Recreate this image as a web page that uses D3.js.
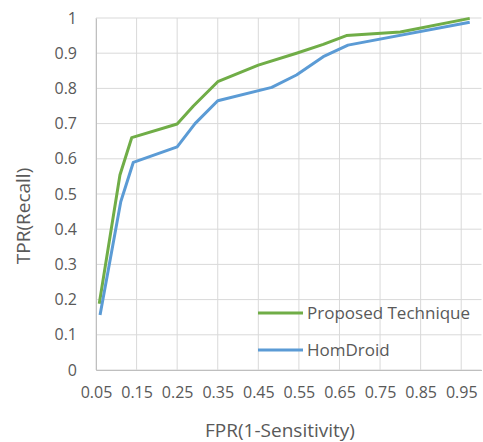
<!DOCTYPE html>
<html>
<head>
<meta charset="utf-8">
<script src="https://cdn.jsdelivr.net/npm/d3@7"></script>
<style>
  body { margin: 0; background: #fff; }
  text { font-family: 'Open Sans', sans-serif; fill: #595959; }
</style>
</head>
<body>
<div id="chart"></div>
<script>
// values
let proposedX = [0.058, 0.109, 0.138, 0.25, 0.29, 0.35, 0.45, 0.544, 0.61, 0.667, 0.80, 0.971]
let proposedY = [0.188, 0.554, 0.66, 0.699, 0.75, 0.819, 0.866, 0.90, 0.925, 0.95, 0.96, 0.999]

let homX = [0.06, 0.111, 0.142, 0.25, 0.294, 0.35, 0.483, 0.544, 0.61, 0.671, 0.971]
let homY = [0.156, 0.478, 0.59, 0.634, 0.70, 0.765, 0.803, 0.838, 0.89, 0.923, 0.988]

let xTicks = [0.05, 0.15, 0.25, 0.35, 0.45, 0.55, 0.65, 0.75, 0.85, 0.95]
let yTicks = [0, 0.1, 0.2, 0.3, 0.4, 0.5, 0.6, 0.7, 0.8, 0.9, 1]

let seriesNames = ['Proposed Technique', 'HomDroid']
let seriesColors = ['#70ad47', '#5b9bd5']

let width = 483, height = 442
let margin = {top: 18, right: 1.5, bottom: 72, left: 96}

let svg = d3.select('#chart')
.append('svg')
.attr('width', width)
.attr('height', height)

let x = d3.scaleLinear()
.domain([0.05, 1.0])
.range([margin.left, width - margin.right])

let y = d3.scaleLinear()
.domain([0, 1])
.range([height - margin.bottom, margin.top])

// grid
svg.append('g')
.selectAll('line')
.data(yTicks)
.join('line')
.attr('x1', x(0.05)).attr('x2', x(1.0))
.attr('y1', d => y(d)).attr('y2', d => y(d))
.style('stroke', '#d9d9d9')
.style('stroke-width', 1)

svg.append('g')
.selectAll('line')
.data(xTicks)
.join('line')
.attr('x1', d => x(d)).attr('x2', d => x(d))
.attr('y1', y(0)).attr('y2', y(1))
.style('stroke', '#d9d9d9')
.style('stroke-width', 1)

// axes
let xAxis = svg.append('g')
.attr('transform', `translate(0,${y(0)})`)
.call(d3.axisBottom(x).tickValues(xTicks).tickSize(0).tickPadding(17).tickFormat(d3.format('.2f')))
xAxis.select('.domain').style('stroke', '#bfbfbf')
xAxis.selectAll('text').style('font-size', '16px').style('font-family', "'Open Sans', sans-serif").attr('fill', '#595959')

let yAxis = svg.append('g')
.attr('transform', `translate(${x(0.05)},0)`)
.call(d3.axisLeft(y).tickValues(yTicks).tickSize(0).tickPadding(19).tickFormat(d => d3.format('')(+d.toFixed(1))))
yAxis.select('.domain').style('stroke', '#bfbfbf')
yAxis.selectAll('text').style('font-size', '16px').style('font-family', "'Open Sans', sans-serif").attr('fill', '#595959')

// lines
let line = d3.line().x(d => x(d[0])).y(d => y(d[1]))

let series = [
  d3.zip(proposedX, proposedY),
  d3.zip(homX, homY)
]

svg.append('g')
.selectAll('path')
.data(series)
.join('path')
.attr('d', line)
.attr('fill', 'none')
.style('stroke', (d, i) => seriesColors[i])
.style('stroke-width', 3)
.style('stroke-linejoin', 'round')

// legend
let legend = svg.append('g')
.selectAll('g')
.data(seriesNames)
.join('g')
.attr('transform', (d, i) => `translate(258,${313 + i * 37})`)

legend.append('line')
.attr('x1', 0).attr('x2', 45)
.style('stroke', (d, i) => seriesColors[i])
.style('stroke-width', 3)

legend.append('text')
.attr('x', 49)
.attr('dy', '0.35em')
.style('font-size', '17px')
.text(d => d)

// titles
svg.append('text')
.attr('x', 280)
.attr('y', 437)
.attr('text-anchor', 'middle')
.style('font-size', '19px')
.text('FPR(1-Sensitivity)')

svg.append('text')
.attr('transform', 'translate(30,216) rotate(-90)')
.attr('text-anchor', 'middle')
.style('font-size', '19px')
.text('TPR(Recall)')
</script>
</body>
</html>
